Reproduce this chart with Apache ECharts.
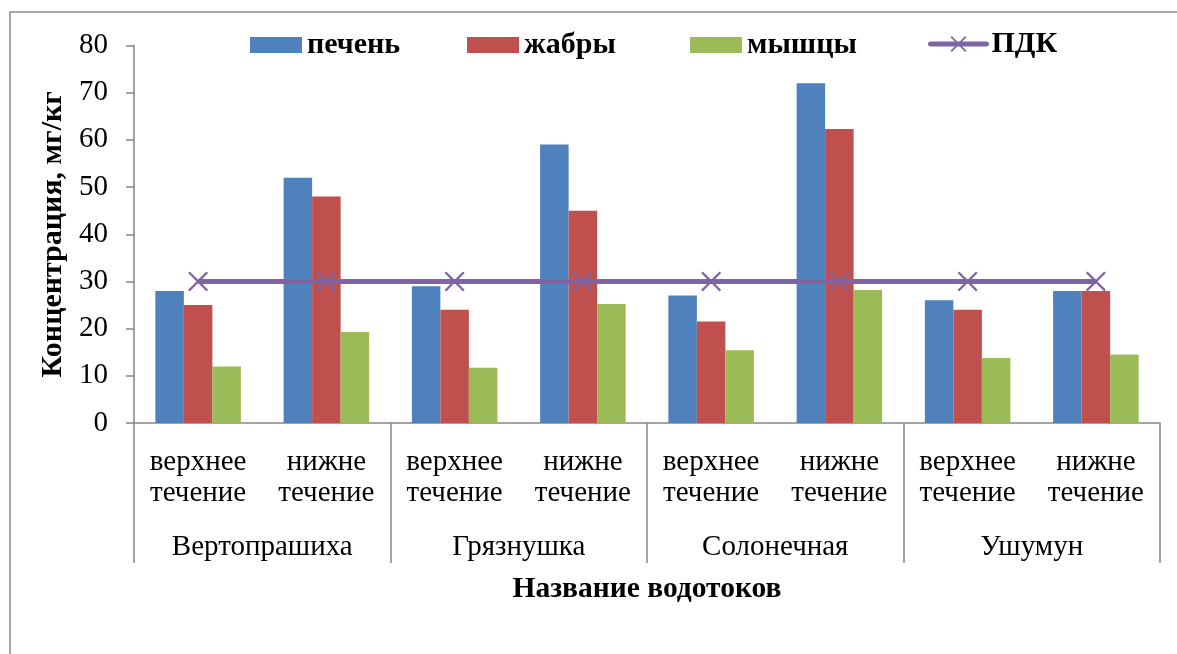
<!DOCTYPE html>
<html>
<head>
<meta charset="utf-8">
<script src="https://cdn.jsdelivr.net/npm/echarts@6/dist/echarts.min.js"></script>
<style>
  html, body { margin: 0; padding: 0; background: #fff; }
  #chart { width: 1177px; height: 654px; }
</style>
</head>
<body>
<div id="chart"></div>
<script>
// Sampling points: upper / lower reaches of each stream
const sections = ['верхнее\nтечение', 'нижне\nтечение',
                  'верхнее\nтечение', 'нижне\nтечение',
                  'верхнее\nтечение', 'нижне\nтечение',
                  'верхнее\nтечение', 'нижне\nтечение'];
const streams = ['Вертопрашиха', 'Грязнушка', 'Солонечная', 'Ушумун'];

// Concentration in fish tissues, mg/kg
const liver  = [28, 52, 29, 59, 27, 72, 26, 28];
const gills  = [25, 48, 24, 45, 21.5, 62.3, 24, 28];
const muscle = [12, 19.3, 11.7, 25.2, 15.4, 28.2, 13.8, 14.5];
// Maximum permissible concentration
const mpc    = [30, 30, 30, 30, 30, 30, 30, 30];

const yTicks = { min: 0, max: 80, interval: 10 };

const FONT = "'Liberation Serif', 'Times New Roman', serif";
const AXIS_GREY = '#868686';
const COLORS = { liver: '#4F81BD', gills: '#C0504D', muscle: '#9BBB59', mpc: '#8064A2' };

// Cross marker built as a filled outline
const CROSS = 'path://M0,0.8L0.8,0L5,4.2L9.2,0L10,0.8L5.8,5L10,9.2L9.2,10L5,5.8L0.8,10L0,9.2L4.2,5Z';

const chart = echarts.init(document.getElementById('chart'), null, { renderer: 'canvas' });

function legendAt(name, left, opts) {
  return Object.assign({
    data: [name],
    left: left,
    top: 30,
    padding: 0,
    icon: 'rect',
    itemWidth: 52,
    itemHeight: 16,
    itemGap: 4,
    textStyle: { fontFamily: FONT, fontWeight: 'bold', fontSize: 30, color: '#000' },
    selectedMode: false
  }, opts || {});
}

chart.setOption({
  animation: false,
  backgroundColor: '#fff',
  textStyle: { fontFamily: FONT },
  graphic: [{
    type: 'rect',
    shape: { x: 10, y: 12, width: 1250, height: 760 },
    style: { fill: 'none', stroke: '#8c8c8c', lineWidth: 1.5 },
    silent: true
  }],
  legend: [
    legendAt('печень', 250),
    legendAt('жабры', 467),
    legendAt('мышцы', 690),
    legendAt('ПДК', 928, {
      icon: null,
      itemWidth: 56, itemHeight: 20, top: 29, itemGap: 3,
      lineStyle: { width: 5, cap: 'round' }
    })
  ],
  grid: { left: 134, right: 17, top: 45.5, bottom: 231, containLabel: false },
  xAxis: [{
    type: 'category',
    data: sections,
    position: 'bottom',
    axisLine: { show: true, lineStyle: { color: AXIS_GREY, width: 1.5 } },
    axisTick: { show: false },
    axisLabel: {
      interval: 0, margin: 24, color: '#000',
      fontFamily: FONT, fontSize: 29, lineHeight: 31
    },
    splitLine: { show: false }
  }, {
    type: 'category',
    data: streams,
    position: 'bottom',
    axisLine: { show: false },
    axisTick: { show: true, interval: 0, length: 140, lineStyle: { color: AXIS_GREY, width: 1.5 } },
    axisLabel: { interval: 0, margin: 110, color: '#000', fontFamily: FONT, fontSize: 29 },
    name: 'Название водотоков',
    nameLocation: 'middle',
    nameGap: 151,
    nameTextStyle: { fontFamily: FONT, fontWeight: 'bold', fontSize: 29.5, color: '#000' },
    splitLine: { show: false }
  }],
  yAxis: {
    type: 'value',
    min: yTicks.min, max: yTicks.max, interval: yTicks.interval,
    axisLine: { show: true, lineStyle: { color: AXIS_GREY, width: 1.5 } },
    axisTick: { show: true, length: 8, lineStyle: { color: AXIS_GREY, width: 1.5 } },
    axisLabel: { margin: 26, color: '#000', fontFamily: FONT, fontSize: 29 },
    splitLine: { show: false },
    name: 'Концентрация, мг/кг',
    nameLocation: 'middle',
    nameGap: 60,
    nameRotate: 90,
    nameTextStyle: { fontFamily: FONT, fontWeight: 'bold', fontSize: 30, color: '#000' }
  },
  series: [{
    name: 'печень', type: 'bar', data: liver, xAxisIndex: 0,
    barGap: '0%', barCategoryGap: '33.3%',
    itemStyle: { color: COLORS.liver }
  }, {
    name: 'жабры', type: 'bar', data: gills, xAxisIndex: 0,
    barGap: '0%', barCategoryGap: '33.3%',
    itemStyle: { color: COLORS.gills }
  }, {
    name: 'мышцы', type: 'bar', data: muscle, xAxisIndex: 0,
    barGap: '0%', barCategoryGap: '33.3%',
    itemStyle: { color: COLORS.muscle }
  }, {
    name: 'ПДК', type: 'line', data: mpc, xAxisIndex: 0,
    symbol: CROSS, symbolSize: 20, showSymbol: true,
    lineStyle: { color: COLORS.mpc, width: 5 },
    itemStyle: { color: COLORS.mpc },
    z: 5
  }]
});
</script>
</body>
</html>
